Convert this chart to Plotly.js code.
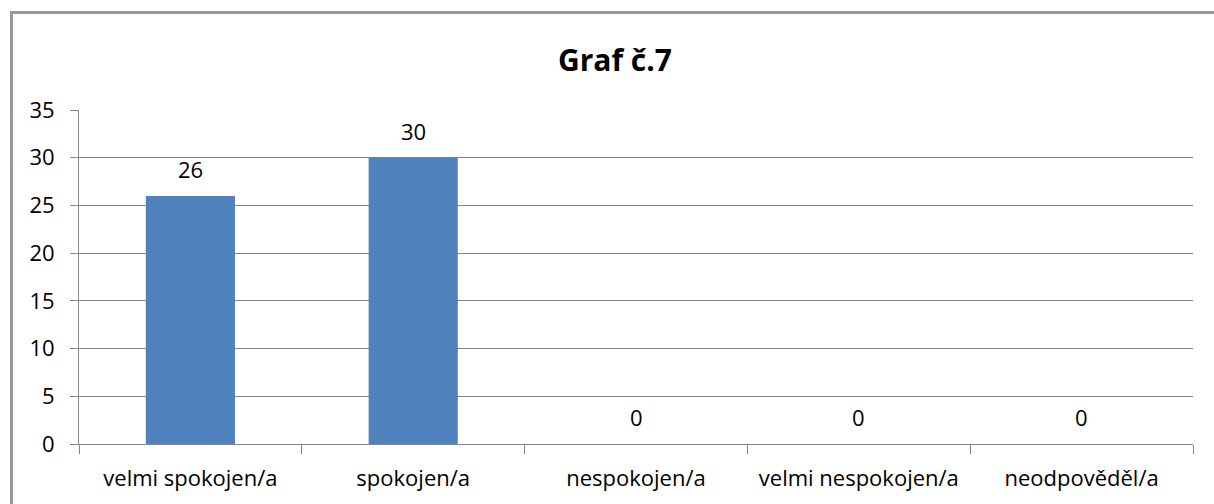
<!DOCTYPE html>
<html>
<head>
<meta charset="utf-8">
<script src="https://cdn.plot.ly/plotly-3.0.1.min.js"></script>
<style>
html,body{margin:0;padding:0;background:#fff;overflow:hidden;}
#wrap{position:relative;width:1214px;height:504px;overflow:hidden;}
#chart{width:1214px;height:504px;}
#frame{position:absolute;left:10px;top:11px;width:1300px;height:600px;border-left:3px solid #999;border-top:3px solid #999;pointer-events:none;}
</style>
</head>
<body>
<div id="wrap"><div id="chart"></div><div id="frame"></div></div>
<script>
const categories = ["velmi spokojen/a", "spokojen/a", "nespokojen/a", "velmi nespokojen/a", "neodpověděl/a"];
const values = [26, 30, 0, 0, 0];
const yTicks = [0, 5, 10, 15, 20, 25, 30, 35];

const font = "'Open Sans', 'Liberation Sans', sans-serif";
const grey = "#868686";

const trace = {
  type: "bar",
  x: categories,
  y: values,
  width: 0.4,
  marker: {color: "#4F81BD", line: {width: 0}},
  hoverinfo: "none"
};

const annotations = categories.map((c, i) => ({
  x: c, y: values[i], xref: "x", yref: "y",
  text: String(values[i]), showarrow: false,
  yanchor: "middle", yshift: 27,
  font: {family: font, size: 22, color: "#000"}
}));

const layout = {
  width: 1214, height: 504,
  margin: {l: 79, r: 21, t: 110, b: 60, pad: 0},
  paper_bgcolor: "#fff", plot_bgcolor: "#fff",
  showlegend: false,
  title: {
    text: "<b>Graf č.7</b>",
    font: {family: font, size: 30, color: "#000"},
    x: 615/1214, xref: "container", xanchor: "center",
    y: 1 - 60/504, yref: "container", yanchor: "middle"
  },
  xaxis: {
    type: "category",
    showgrid: false,
    showline: true, linecolor: grey, linewidth: 1,
    ticks: "outside", tickson: "boundaries", ticklen: 9, tickcolor: grey, tickwidth: 1,
    ticklabelstandoff: 15,
    tickfont: {family: font, size: 22, color: "#000"},
    zeroline: false, fixedrange: true
  },
  yaxis: {
    range: [0, 35],
    tickvals: yTicks,
    ticktext: yTicks.map(String),
    showgrid: true, gridcolor: grey, gridwidth: 1,
    showline: true, linecolor: grey, linewidth: 1,
    ticks: "outside", ticklen: 8, tickcolor: grey, tickwidth: 1,
    ticklabelstandoff: 11,
    tickfont: {family: font, size: 22, color: "#000"},
    zeroline: false, fixedrange: true
  },
  annotations: annotations
};

Plotly.newPlot("chart", [trace], layout, {staticPlot: true, displayModeBar: false});
</script>
</body>
</html>
